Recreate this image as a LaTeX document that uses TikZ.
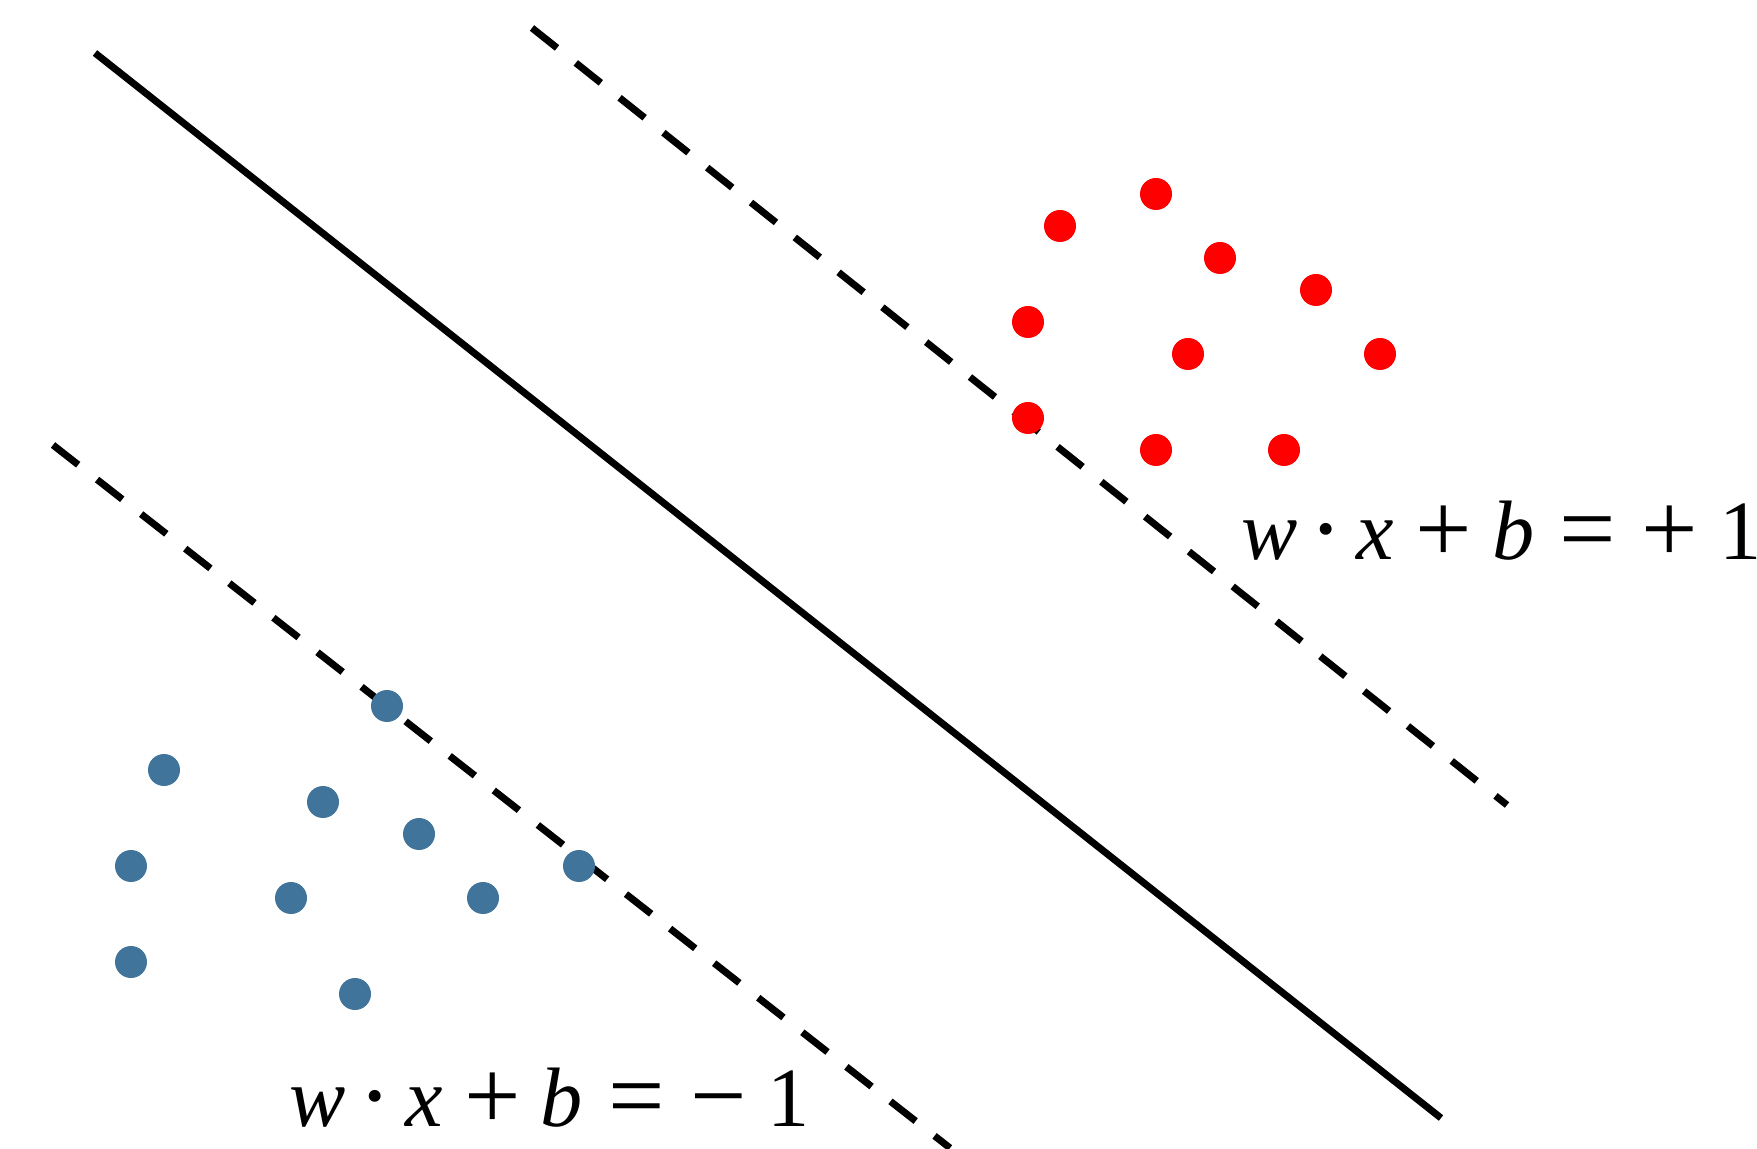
\documentclass[tikz,border=0pt]{standalone}
\usepackage{fontspec}
\setmainfont{Liberation Serif}
\definecolor{negblue}{RGB}{65,116,155}
\tikzset{
    hyperplane/.style={line width=2pt},
    marginline/.style={line width=2pt,dash pattern=on 0.32cm off 0.24cm},
    posdot/.style={fill=red},
    negdot/.style={fill=negblue},
    eqlabel/.style={anchor=base west,inner sep=0pt,font=\fontsize{24}{28}\selectfont}
}
\newcommand{\gl}[1]{\makebox[0pt][c]{#1}}
\newcommand{\op}[1]{\gl{\raisebox{-0.03cm}{\fontsize{28.5}{30}\selectfont #1}}}
\newcommand{\margineq}[1]{\gl{\textit{w}}\hspace{.57cm}\op{·}\hspace{.495cm}\gl{\textit{x}}\hspace{.685cm}\op{+}\hspace{.69cm}\gl{\textit{b}}\hspace{.75cm}\op{=}\hspace{.82cm}\op{#1}\hspace{.70cm}\gl{1}}
\begin{document}
\begin{tikzpicture}
                \useasboundingbox (0,0) rectangle (17.57,11.48);
                \coordinate (S1) at (0.95,10.95);
                \coordinate (S2) at (14.41,0.30);
                \coordinate (P1) at (5.32,11.20);
                \coordinate (P2) at (15.07,3.43);
                \coordinate (N1) at (0.53,7.03);
                \coordinate (N2) at (9.50,0.00);
                \draw[hyperplane] (S1)--(S2);
                \draw[marginline] (P1)--(P2);
                \draw[marginline] (N1)--(N2);
                \foreach \x/\y in {10.60/9.22,11.56/9.54,12.20/8.90,13.16/8.58,10.28/8.26,11.88/7.94,13.80/7.94,10.28/7.30,11.56/6.98,12.84/6.98}
                    \fill[posdot] (\x,\y) circle[radius=.16];
                \foreach \x/\y in {3.87/4.42,1.64/3.78,3.23/3.46,4.19/3.14,1.31/2.82,5.79/2.82,2.91/2.50,4.83/2.50,1.31/1.86,3.55/1.54}
                    \fill[negdot] (\x,\y) circle[radius=.16];
                \node[eqlabel] (plus) at (12.685,5.88) {\margineq{+}};
                \node[eqlabel] (minus) at (3.17,0.22) {\margineq{−}};
            \end{tikzpicture}
\end{document}
